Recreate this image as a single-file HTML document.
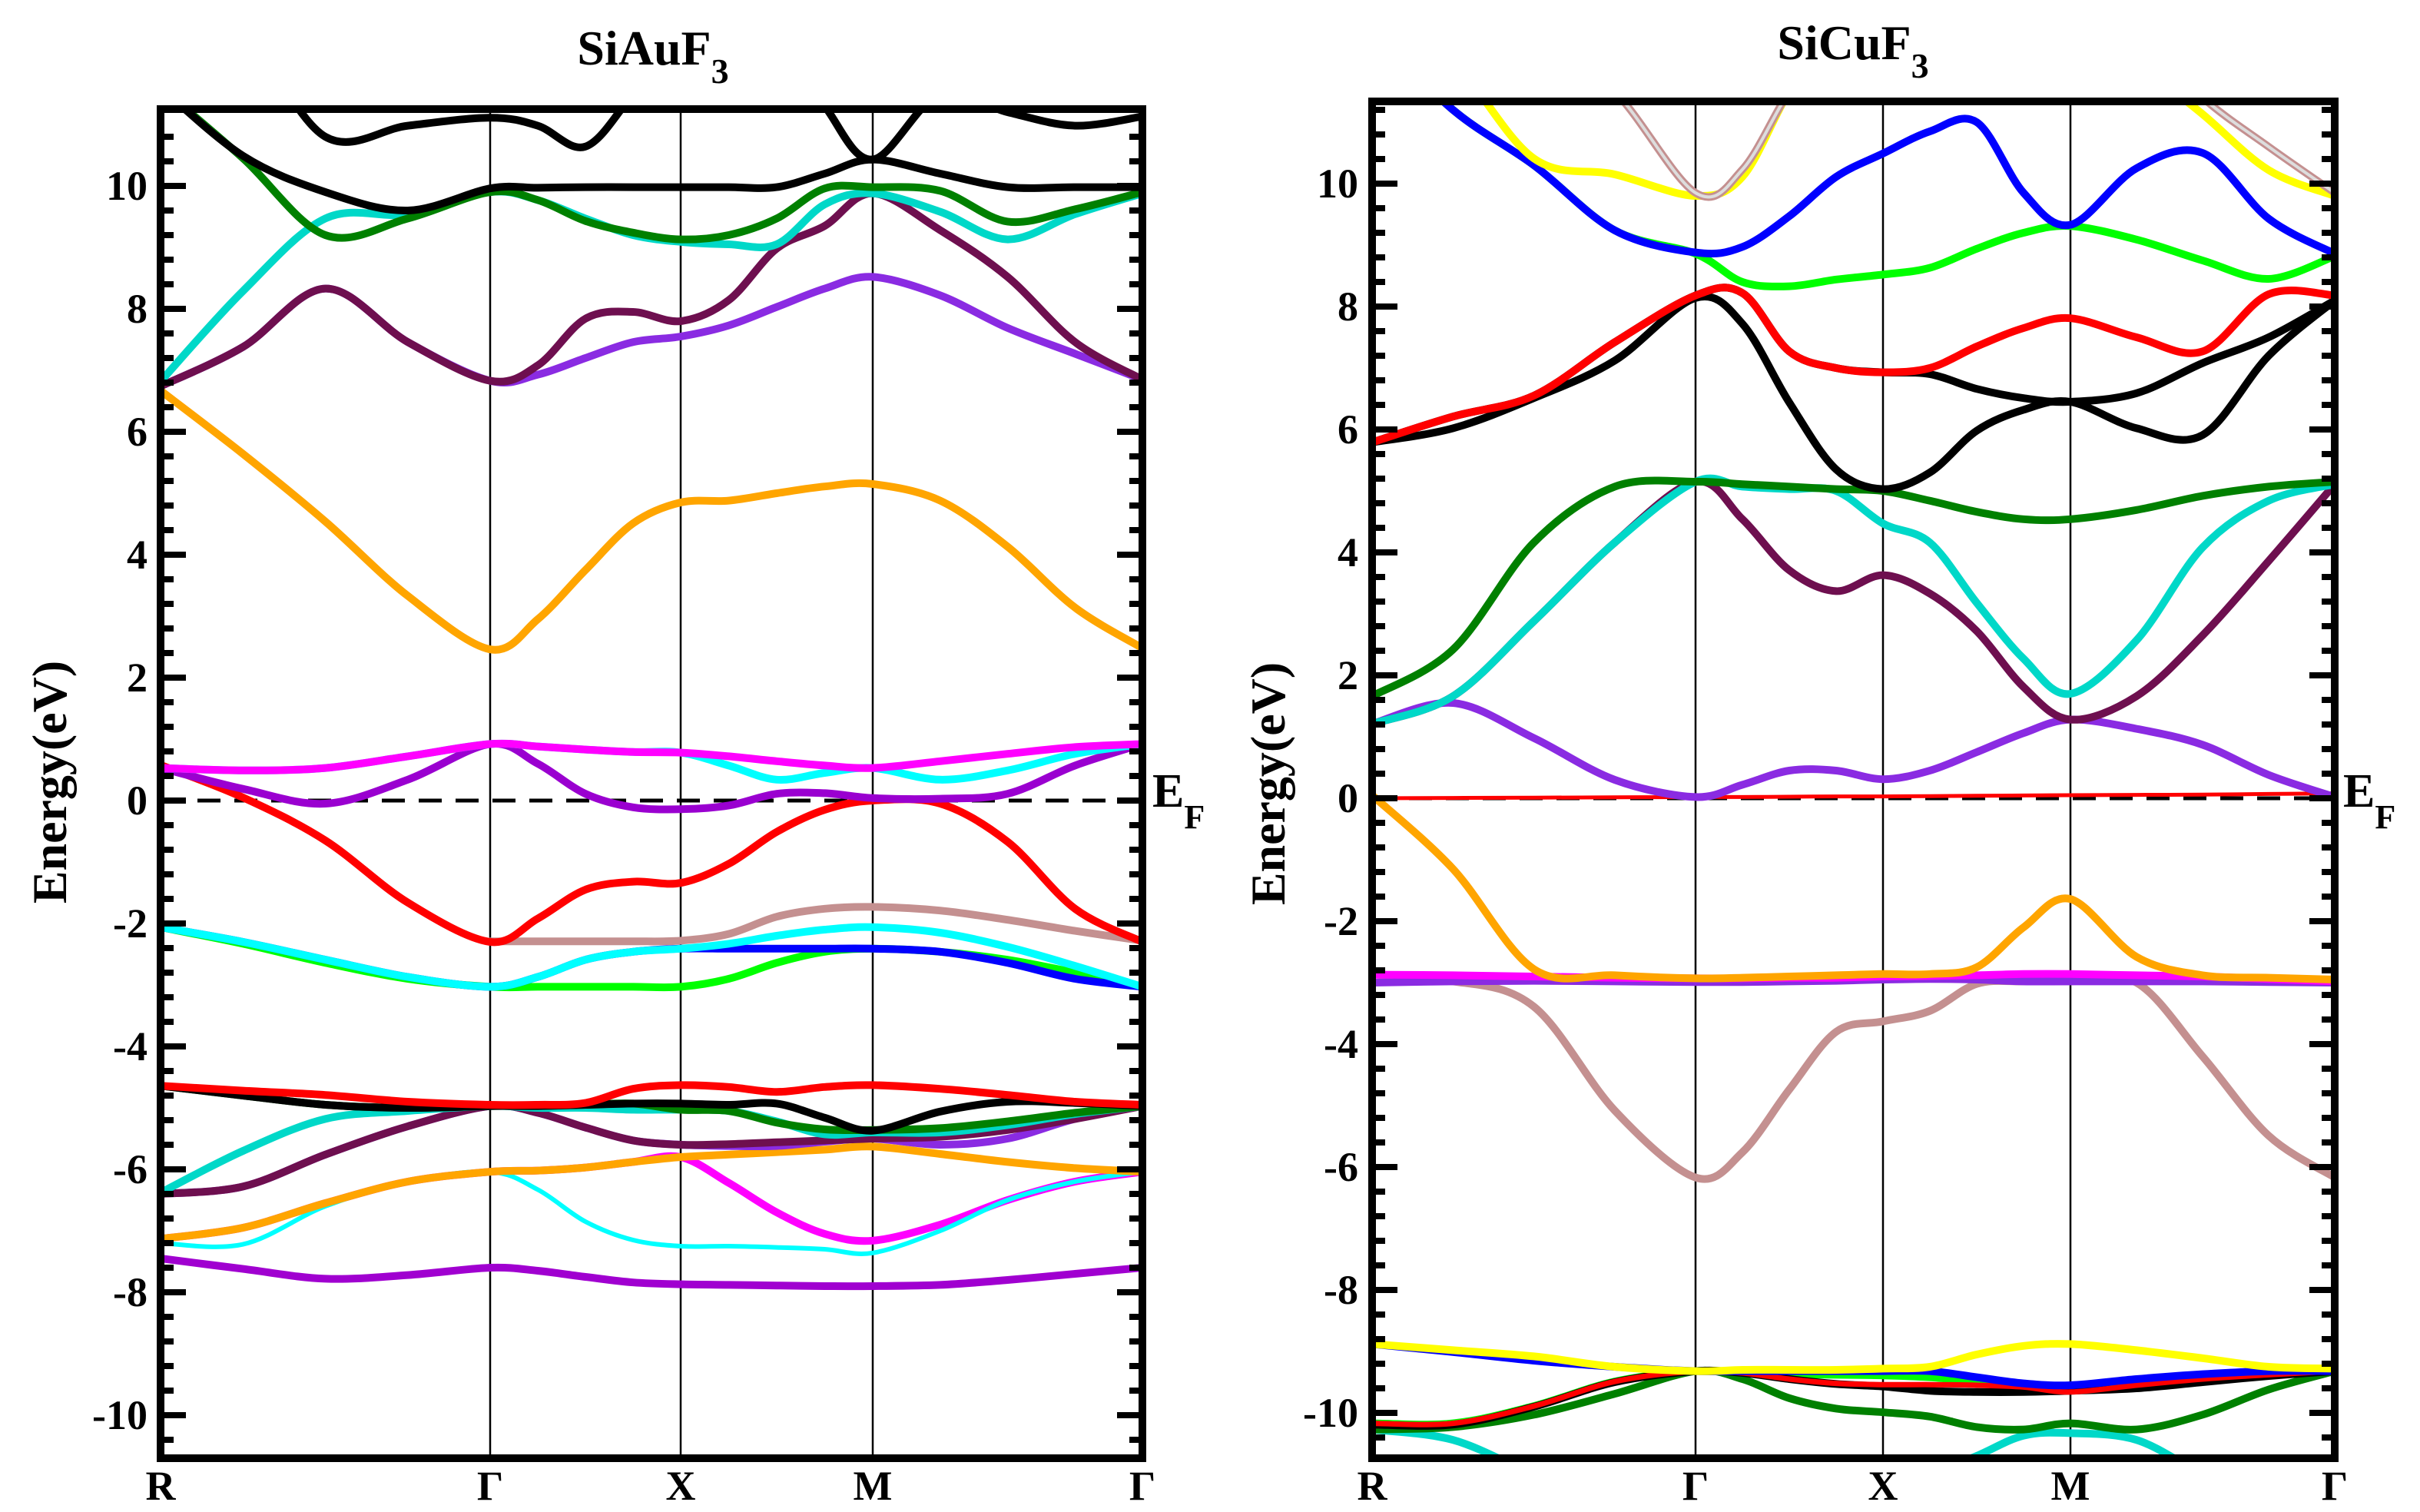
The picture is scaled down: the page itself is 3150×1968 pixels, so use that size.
<!DOCTYPE html>
<html><head><meta charset="utf-8"><style>
html,body{margin:0;padding:0;background:#fff;}
svg{display:block;}
text{font-family:"Liberation Serif",serif;font-weight:bold;fill:#000;}
</style></head>
<body>
<svg id="chart" width="3150" height="1968" viewBox="0 0 3150 1968" xmlns="http://www.w3.org/2000/svg">
<rect x="0" y="0" width="3150" height="1968" fill="#fff"/>
<defs>
<clipPath id="clipL"><rect x="209" y="142" width="1278" height="1756"/></clipPath>
<clipPath id="clipR"><rect x="1786" y="132" width="1253" height="1766"/></clipPath>
</defs>
<g id="panelL"></g>
<g id="panelR"></g>
<text x="850" y="84" font-size="64" text-anchor="middle">SiAuF<tspan font-size="46" dy="24">3</tspan></text>
<text x="2412" y="77" font-size="64" text-anchor="middle">SiCuF<tspan font-size="46" dy="24">3</tspan></text>
<text font-size="64" text-anchor="middle" transform="translate(86,1018) rotate(-90)">Energy(eV)</text>
<text font-size="64" text-anchor="middle" transform="translate(1672,1020) rotate(-90)">Energy(eV)</text>
<text x="1500" y="1050" font-size="62">E<tspan font-size="44" dy="28">F</tspan></text>
<text x="3050" y="1050" font-size="62">E<tspan font-size="44" dy="28">F</tspan></text>
</svg>
<script>
// shared k-path sample positions (segment index units: R=0, Γ=1, X=2, M=3, Γ=4)
const kPath = [0,0.25,0.5,0.75,1,1.25,1.5,1.75,2,2.25,2.5,2.75,3,3.25,3.5,3.75,4];
const kLabels = ["R","Γ","X","M","Γ"];
const yTickLabels = [-10,-8,-6,-4,-2,0,2,4,6,8,10];

// ---- SiAuF3 bands (eV) ----
const L_purpleLow = [-7.45,-7.62,-7.78,-7.72,-7.6,-7.65,-7.75,-7.84,-7.87,-7.88,-7.89,-7.9,-7.9,-7.88,-7.8,-7.7,-7.6];
const L_magentaLow = [-7.13,-6.95,-6.55,-6.2,-6.04,-6.02,-5.97,-5.88,-5.8,-6.22,-6.7,-7.05,-7.16,-6.9,-6.5,-6.2,-6.04];
const L_cyanThin = [-7.2,-7.22,-6.6,-6.2,-6.04,-6.33,-6.85,-7.15,-7.25,-7.25,-7.27,-7.3,-7.36,-7.0,-6.5,-6.2,-6.04];
const L_orangeLow = [-7.13,-6.95,-6.55,-6.2,-6.04,-6.02,-5.97,-5.88,-5.8,-5.76,-5.72,-5.68,-5.63,-5.75,-5.88,-5.98,-6.04];
const L_violetLow = [-6.4,-6.28,-5.76,-5.3,-4.97,-5.08,-5.32,-5.53,-5.6,-5.62,-5.62,-5.55,-5.5,-5.6,-5.5,-5.18,-4.97];
const L_maroonLow = [-6.4,-6.28,-5.76,-5.3,-4.97,-5.08,-5.32,-5.53,-5.6,-5.59,-5.56,-5.53,-5.5,-5.47,-5.36,-5.18,-4.97];
const L_turqLow = [-6.38,-5.7,-5.18,-5.05,-4.97,-5.0,-5.0,-5.03,-5.03,-5.05,-5.22,-5.43,-5.4,-5.4,-5.28,-5.1,-4.97];
const L_dgreenLow = [-4.64,-4.8,-4.95,-5.0,-4.97,-4.97,-4.95,-4.93,-5.03,-5.05,-5.24,-5.35,-5.36,-5.33,-5.22,-5.08,-4.97];
const L_blackLow = [-4.64,-4.8,-4.95,-5.0,-4.97,-4.97,-4.95,-4.93,-4.93,-4.95,-4.93,-5.16,-5.37,-5.06,-4.9,-4.92,-4.97];
const L_redLow = [-4.64,-4.72,-4.79,-4.9,-4.95,-4.95,-4.92,-4.69,-4.63,-4.66,-4.74,-4.66,-4.63,-4.69,-4.79,-4.9,-4.95];
const L_greenMid = [-2.06,-2.33,-2.64,-2.9,-3.03,-3.03,-3.03,-3.03,-3.03,-2.9,-2.64,-2.46,-2.41,-2.46,-2.59,-2.8,-3.03];
const L_blueMid = [-2.06,-2.3,-2.59,-2.87,-3.03,-2.87,-2.59,-2.46,-2.41,-2.41,-2.41,-2.41,-2.41,-2.46,-2.64,-2.9,-3.03];
const L_cyanMid = [-2.06,-2.3,-2.59,-2.87,-3.03,-2.87,-2.59,-2.46,-2.41,-2.33,-2.2,-2.1,-2.06,-2.15,-2.38,-2.69,-3.03];
const L_rosyMid = [null,null,null,null,-2.29,-2.29,-2.29,-2.29,-2.28,-2.17,-1.89,-1.76,-1.73,-1.79,-1.94,-2.12,-2.28];
const L_redMid = [0.58,0.05,-0.65,-1.66,-2.3,-1.92,-1.45,-1.32,-1.34,-1.03,-0.51,-0.15,0.0,-0.05,-0.67,-1.76,-2.3];
const L_violetEF = [0.53,0.19,-0.05,0.34,0.92,0.6,0.11,-0.11,-0.14,-0.08,0.11,0.12,0.04,0.03,0.11,0.57,0.92];
const L_cyanEF = [0.53,0.49,0.53,0.72,0.92,0.88,0.83,0.79,0.78,0.57,0.34,0.45,0.53,0.34,0.49,0.76,0.92];
const L_magentaEF = [0.53,0.49,0.53,0.72,0.92,0.88,0.83,0.79,0.78,0.72,0.64,0.57,0.53,0.64,0.76,0.87,0.92];
const L_orangeMid = [6.67,5.64,4.54,3.33,2.46,2.95,3.75,4.51,4.85,4.88,5.0,5.11,5.15,4.88,4.13,3.14,2.48];
const L_violetUp = [6.74,7.38,8.33,7.46,6.83,6.93,7.2,7.46,7.55,7.73,8.03,8.33,8.52,8.22,7.69,7.27,6.85];
const L_maroonUp = [6.74,7.38,8.33,7.46,6.83,7.08,7.84,7.95,7.8,8.14,8.98,9.35,9.88,9.28,8.52,7.46,6.85];
const L_turqUp = [6.82,8.29,9.47,9.54,9.9,9.77,9.47,9.2,9.09,9.05,9.05,9.7,9.88,9.58,9.13,9.54,9.88];
const L_dgreenUp = [11.6,10.45,9.2,9.47,9.9,9.77,9.43,9.24,9.13,9.2,9.47,9.96,9.98,9.92,9.42,9.62,9.9];
const L_blackA = [11.6,10.49,9.9,9.6,9.96,9.97,9.98,9.98,9.98,9.98,9.98,10.2,10.43,10.2,9.98,9.98,9.98];
const L_blackB = [13,12.5,10.8,10.98,11.11,10.98,10.64,11.5,12.5,13,12.5,11.3,10.43,11.5,11.2,10.98,11.13];

// ---- SiCuF3 bands (eV) ----
const R_cyanLow = [-10.27,-10.44,-11,-11.5,-12,-12,-12,-11.5,-11.2,-11,-10.7,-10.37,-10.33,-10.44,-11,-11.5,-12];
const R_greenLow = [-10.17,-10.17,-9.89,-9.49,-9.32,-9.35,-9.37,-9.38,-9.39,-9.42,-9.49,-9.55,-9.59,-9.5,-9.42,-9.36,-9.32];
const R_dgreenLow = [-10.27,-10.23,-10.03,-9.69,-9.32,-9.45,-9.76,-9.93,-9.99,-10.06,-10.23,-10.27,-10.17,-10.27,-10.03,-9.62,-9.32];
const R_blackLow = [-10.19,-10.19,-9.9,-9.5,-9.32,-9.35,-9.45,-9.53,-9.57,-9.64,-9.66,-9.66,-9.64,-9.6,-9.5,-9.4,-9.32];
const R_redLow = [-10.17,-10.17,-9.89,-9.49,-9.32,-9.35,-9.45,-9.52,-9.54,-9.54,-9.55,-9.58,-9.66,-9.55,-9.45,-9.38,-9.32];
const R_blueLow = [-8.88,-9.01,-9.15,-9.25,-9.32,-9.32,-9.32,-9.32,-9.32,-9.32,-9.42,-9.52,-9.55,-9.45,-9.37,-9.32,-9.32];
const R_yellowLow = [-8.88,-8.98,-9.08,-9.25,-9.32,-9.3,-9.3,-9.3,-9.28,-9.25,-9.05,-8.91,-8.88,-8.98,-9.11,-9.25,-9.28];
const R_rosyLow = [-3.0,-2.98,-3.39,-5.08,-6.17,-5.76,-4.74,-3.8,-3.63,-3.46,-3.02,-2.98,-2.98,-3.0,-4.2,-5.49,-6.17];
const R_purpleLow = [-3.0,-2.98,-2.97,-2.98,-2.99,-2.99,-2.98,-2.97,-2.95,-2.94,-2.95,-2.98,-2.98,-2.98,-2.98,-2.99,-3.0];
const R_magentaLow = [-2.87,-2.88,-2.9,-2.92,-2.93,-2.93,-2.92,-2.92,-2.9,-2.89,-2.88,-2.86,-2.86,-2.88,-2.9,-2.94,-2.98];
const R_orange = [0.05,-1.15,-2.78,-2.88,-2.93,-2.92,-2.9,-2.88,-2.86,-2.86,-2.75,-2.1,-1.64,-2.58,-2.88,-2.92,-2.95];
const R_redEF = [0.0,0.005,0.01,0.015,0.02,0.02,0.025,0.03,0.03,0.035,0.04,0.045,0.05,0.055,0.06,0.07,0.08];
const R_purple = [1.21,1.55,0.98,0.3,0.02,0.22,0.45,0.45,0.31,0.45,0.75,1.06,1.28,1.13,0.87,0.38,0.02];
const R_maroon = [1.21,1.66,2.88,4.16,5.15,4.54,3.71,3.37,3.63,3.33,2.72,1.81,1.28,1.66,2.65,3.86,5.11];
const R_cyan = [1.21,1.66,2.88,4.16,5.15,5.07,5.03,5.0,4.47,4.16,3.18,2.27,1.7,2.57,4.08,4.84,5.11];
const R_dgreen = [1.66,2.42,4.16,5.07,5.15,5.11,5.07,5.03,5.0,4.84,4.66,4.54,4.54,4.69,4.92,5.07,5.15];
const R_black2 = [5.79,6.21,6.55,7.42,8.18,8.22,7.27,7.0,6.93,6.9,6.66,6.51,6.45,6.59,7.08,7.5,8.1];
const R_black1 = [5.79,6.02,6.51,7.12,8.14,7.72,6.44,5.35,5.03,5.3,5.98,6.32,6.45,6.02,5.91,7.2,8.1];
const R_red = [5.79,6.21,6.55,7.42,8.18,8.22,7.27,7.0,6.93,7.0,7.35,7.65,7.81,7.5,7.27,8.2,8.18];
const R_green = [12.5,11.2,10.3,9.24,8.86,8.4,8.33,8.44,8.52,8.63,8.94,9.2,9.31,9.09,8.75,8.45,8.82];
const R_blue = [12.5,11.2,10.3,9.24,8.88,8.97,9.47,10.11,10.49,10.85,11.0,9.85,9.33,10.25,10.5,9.43,8.86];
const R_yellow = [13,12,10.41,10.15,9.8,10.11,11.5,12.5,13,13,13,13,13,12,11.13,10.22,9.8];
const R_rosyTop = [14,13,12.5,11.5,9.85,10.23,11.5,12.5,14,14,14,14,14,12.5,11.4,10.6,9.85];

const svg = document.getElementById('chart');
const NS = 'http://www.w3.org/2000/svg';

const panelL = {g:document.getElementById('panelL'), clip:'clipL', kx:[209,638,886,1136,1487], y0:1042, top:142, bottom:1898,
  tickRight:192, labelY:1952};
const panelR = {g:document.getElementById('panelR'), clip:'clipR', kx:[1786,2207,2451,2695,3039], y0:1039, top:132, bottom:1898,
  tickRight:1768, labelY:1952};

function xOf(p, d){
  const i = Math.min(3, Math.floor(d));
  const f = d - i;
  return p.kx[i] + f*(p.kx[i+1]-p.kx[i]);
}
function yOf(p, e){ return p.y0 - e*80; }

function smoothPath(pts){
  if(pts.length<2) return '';
  let s = 'M'+pts[0][0].toFixed(1)+','+pts[0][1].toFixed(1);
  for(let i=0;i<pts.length-1;i++){
    const p0 = pts[Math.max(0,i-1)], p1 = pts[i], p2 = pts[i+1], p3 = pts[Math.min(pts.length-1,i+2)];
    const c1x = p1[0]+(p2[0]-p0[0])/6, c1y = p1[1]+(p2[1]-p0[1])/6;
    const c2x = p2[0]-(p3[0]-p1[0])/6, c2y = p2[1]-(p3[1]-p1[1])/6;
    s += ' C'+c1x.toFixed(1)+','+c1y.toFixed(1)+' '+c2x.toFixed(1)+','+c2y.toFixed(1)+' '+p2[0].toFixed(1)+','+p2[1].toFixed(1);
  }
  return s;
}

function drawBand(p, vals, color, width, name, clipG){
  const segs = []; let cur = [];
  vals.forEach((v,i)=>{
    if(v===null){ if(cur.length) segs.push(cur); cur=[]; }
    else cur.push([xOf(p,kPath[i]), yOf(p,v)]);
  });
  if(cur.length) segs.push(cur);
  segs.forEach(sg=>{
    const path = document.createElementNS(NS,'path');
    path.setAttribute('d', smoothPath(sg));
    path.setAttribute('fill','none');
    path.setAttribute('stroke',color);
    path.setAttribute('stroke-width',width);
    path.setAttribute('stroke-linejoin','round');
    path.setAttribute('stroke-linecap','round');
    
    
    clipG.appendChild(path);
  });
}

function drawFrame(p, bands, prefix){
  const g = p.g;
  const x0 = p.kx[0], x1 = p.kx[4];
  [1,2,3].forEach(i=>{
    const l = document.createElementNS(NS,'line');
    l.setAttribute('x1',p.kx[i]); l.setAttribute('x2',p.kx[i]);
    l.setAttribute('y1',p.top); l.setAttribute('y2',p.bottom);
    l.setAttribute('stroke','#000'); l.setAttribute('stroke-width',2.5);
    
    
    g.appendChild(l);
  });
  const fl = document.createElementNS(NS,'line');
  fl.setAttribute('x1',x0); fl.setAttribute('x2',x1);
  fl.setAttribute('y1',yOf(p,0)); fl.setAttribute('y2',yOf(p,0));
  fl.setAttribute('stroke','#000'); fl.setAttribute('stroke-width',5);
  fl.setAttribute('stroke-dasharray','30,18');
  
  
  g.appendChild(fl);
  const cg = document.createElementNS(NS,'g');
  cg.setAttribute('clip-path','url(#'+p.clip+')');
  
  
  g.appendChild(cg);
  bands.forEach(b=>drawBand(p,b[0],b[1],b[2],b[3],cg));
  const emin = (p.y0 - p.bottom)/80, emax = (p.y0 - p.top)/80;
  for(let k=-30;k<=30;k++){
    const e = k*0.4;
    if(e<emin+0.05 || e>emax-0.05) continue;
    const major = Math.abs(e/2 - Math.round(e/2))<1e-6;
    const len = major?33:17;
    const y = yOf(p,e);
    [[x0,x0+len],[x1,x1-len]].forEach(pr=>{
      const t = document.createElementNS(NS,'line');
      t.setAttribute('x1',pr[0]); t.setAttribute('x2',pr[1]);
      t.setAttribute('y1',y); t.setAttribute('y2',y);
      t.setAttribute('stroke','#000'); t.setAttribute('stroke-width',8);
      
      
      g.appendChild(t);
    });
  }
  yTickLabels.forEach(v=>{
    const y = yOf(p,v);
    if(y<p.top-5||y>p.bottom+5) return;
    const t = document.createElementNS(NS,'text');
    t.setAttribute('x',p.tickRight); t.setAttribute('y',y+18);
    t.setAttribute('font-size',54); t.setAttribute('text-anchor','end');
    
    
    t.textContent = String(v);
    g.appendChild(t);
  });
  kLabels.forEach((lab,i)=>{
    const t = document.createElementNS(NS,'text');
    t.setAttribute('x',p.kx[i]); t.setAttribute('y',p.labelY);
    t.setAttribute('font-size',54); t.setAttribute('text-anchor','middle');
    
    
    t.textContent = lab;
    g.appendChild(t);
  });
  const r = document.createElementNS(NS,'rect');
  r.setAttribute('x',x0); r.setAttribute('y',p.top);
  r.setAttribute('width',x1-x0); r.setAttribute('height',p.bottom-p.top);
  r.setAttribute('fill','none'); r.setAttribute('stroke','#000'); r.setAttribute('stroke-width',10);
  
  
  g.appendChild(r);
}

const W = 10, WT = 6;
drawFrame(panelL, [
  [L_purpleLow,'#a000d0',W,'band-purple-low'],
  [L_magentaLow,'#ff00ff',W,'band-magenta-low'],
  [L_cyanThin,'#00ffff',WT,'band-cyan-thin'],
  [L_orangeLow,'#ffa500',W,'band-orange-low'],
  [L_violetLow,'#8a2be2',W,'band-violet-low'],
  [L_maroonLow,'#6e0f4f',W,'band-maroon-low'],
  [L_turqLow,'#00d8c8',W,'band-turquoise-low'],
  [L_dgreenLow,'#008000',W,'band-darkgreen-low'],
  [L_blackLow,'#000000',W,'band-black-low'],
  [L_redLow,'#ff0000',W,'band-red-low'],
  [L_greenMid,'#00ff00',W,'band-green-mid'],
  [L_blueMid,'#0000ff',W,'band-blue-mid'],
  [L_cyanMid,'#00ffff',W,'band-cyan-mid'],
  [L_rosyMid,'#c49090',W,'band-rosy-mid'],
  [L_redMid,'#ff0000',W,'band-red-mid'],
  [L_violetEF,'#9a00d0',W,'band-violet-fermi'],
  [L_cyanEF,'#00ffff',W,'band-cyan-fermi'],
  [L_magentaEF,'#ff00ff',W,'band-magenta-fermi'],
  [L_orangeMid,'#ffa500',W,'band-orange-mid'],
  [L_violetUp,'#8a2be2',W,'band-violet-up'],
  [L_maroonUp,'#6e0f4f',W,'band-maroon-up'],
  [L_turqUp,'#00d8c8',W,'band-turquoise-up'],
  [L_dgreenUp,'#008000',W,'band-darkgreen-up'],
  [L_blackA,'#000000',W,'band-black-a'],
  [L_blackB,'#000000',W,'band-black-b']
], 'left');

drawFrame(panelR, [
  [R_cyanLow,'#00d8c8',W,'band-cyan-low'],
  [R_greenLow,'#00ff00',W,'band-green-low'],
  [R_dgreenLow,'#008000',W,'band-darkgreen-low'],
  [R_blackLow,'#000000',W,'band-black-low'],
  [R_redLow,'#ff0000',7,'band-red-low'],
  [R_blueLow,'#0000ff',W,'band-blue-low'],
  [R_yellowLow,'#ffff00',W,'band-yellow-low'],
  [R_rosyLow,'#c49090',W,'band-rosy-low'],
  [R_purpleLow,'#8a2be2',W,'band-purple-low'],
  [R_magentaLow,'#ff00ff',W,'band-magenta-low'],
  [R_orange,'#ffa500',W,'band-orange'],
  [R_redEF,'#ff0000',5,'band-red-fermi'],
  [R_purple,'#8a2be2',W,'band-purple'],
  [R_maroon,'#6e0f4f',W,'band-maroon'],
  [R_cyan,'#00d8c8',W,'band-cyan'],
  [R_dgreen,'#008000',W,'band-darkgreen'],
  [R_black2,'#000000',W,'band-black-2'],
  [R_black1,'#000000',W,'band-black-1'],
  [R_red,'#ff0000',W,'band-red'],
  [R_green,'#00ff00',W,'band-green'],
  [R_blue,'#0000ff',W,'band-blue'],
  [R_yellow,'#ffff00',W,'band-yellow'],
  [R_rosyTop,'#c49090',W,'band-rosy-top'],
  [R_rosyTop,'#dddddd',4,'band-grey-top']
], 'right');
</script>
</body></html>
